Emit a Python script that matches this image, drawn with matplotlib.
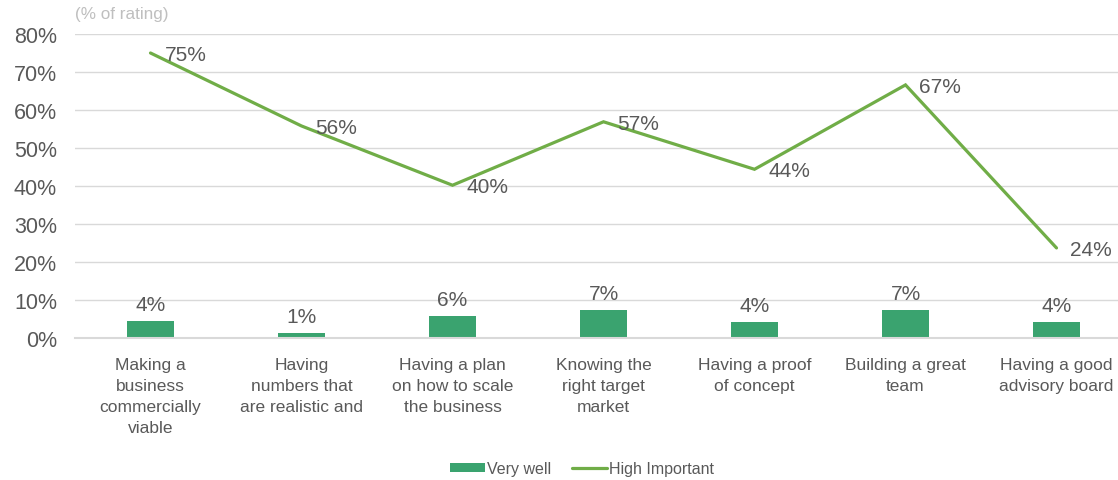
import numpy as np
import matplotlib.pyplot as plt

plt.rcParams['font.family'] = ['Liberation Sans', 'DejaVu Sans']

# -- Data ---------------------------------------------------------------
categories = [
    "Making a\nbusiness\ncommercially\nviable",
    "Having\nnumbers that\nare realistic and",
    "Having a plan\non how to scale\nthe business",
    "Knowing the\nright target\nmarket",
    "Having a proof\nof concept",
    "Building a great\nteam",
    "Having a good\nadvisory board",
]
very_well = [4.4, 1.4, 5.8, 7.3, 4.3, 7.3, 4.3]
high_important = [75.0, 55.8, 40.2, 56.9, 44.4, 66.6, 23.7]

# -- Styling --------------------------------------------------------------
bar_color = '#3AA36F'
line_color = '#70AD47'
text_color = '#595959'
grid_color = '#D9D9D9'

fig = plt.figure(figsize=(11.18, 4.81), dpi=100)
ax = fig.add_axes([75/1118, 1 - 339/481, 1 - 75/1118, (339 - 35)/481])

x = np.arange(len(categories))
bars = ax.bar(x, very_well, width=0.31, color=bar_color, zorder=2, label='Very well')
line, = ax.plot(x, high_important, color=line_color, lw=2.3, zorder=3,
                solid_capstyle='round', solid_joinstyle='miter', label='High Important')

for xi, v in zip(x, very_well):
    ax.annotate(f"{v:.0f}%", (xi, v), xytext=(0, 5), textcoords='offset points',
                ha='center', va='bottom', fontsize=15, color=text_color)
for xi, v in zip(x, high_important):
    ax.annotate(f"{v:.0f}%", (xi, v), xytext=(10, -1), textcoords='offset points',
                ha='left', va='center', fontsize=15, color=text_color)

ax.set_ylim(0, 80)
ax.set_xlim(-0.5, 6.5 - 14/151)
ax.set_yticks(np.arange(0, 81, 10))
ax.set_yticklabels([f"{t}%" for t in range(0, 81, 10)])
ax.set_xticks(x)
ax.set_xticklabels(categories, fontsize=12.5, color=text_color, linespacing=1.52)
ax.tick_params(axis='y', labelsize=15.5, labelcolor=text_color, length=0, pad=13)
ax.tick_params(axis='x', length=0, pad=13.5)

ax.grid(axis='y', color=grid_color, lw=1, zorder=0)
ax.set_axisbelow(True)
for side in ['top', 'right', 'left']:
    ax.spines[side].set_visible(False)
ax.spines['bottom'].set_color(grid_color)
ax.spines['bottom'].set_linewidth(1.5)

fig.text(75/1118, 1 - 15/481, "(% of rating)", fontsize=12.3, color='#BFBFBF',
         ha='left', va='center')

fig.legend([bars, line], ['Very well', 'High Important'], loc='center',
           bbox_to_anchor=(582/1118, 1 - 470/481), ncol=2, frameon=False,
           fontsize=11.5, labelcolor=text_color, handlelength=2.2, handleheight=0.5,
           handletextpad=0.15, columnspacing=1.3)

fig.savefig("out.png", dpi=100)
